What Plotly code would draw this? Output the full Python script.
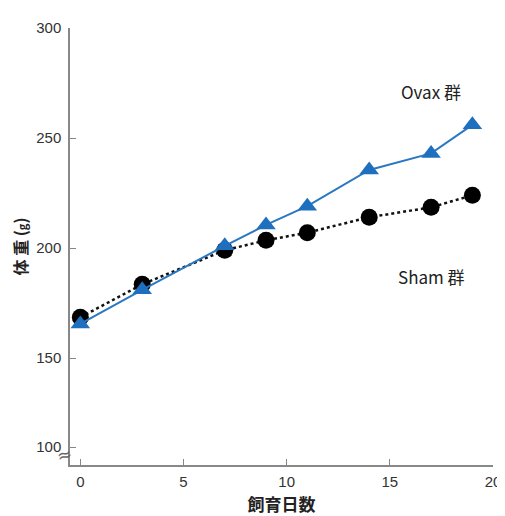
import plotly.graph_objects as go

days = [0, 3, 7, 9, 11, 14, 17, 19]
sham = [168.5, 183.5, 199, 203.5, 207, 214, 218.5, 224]
ovax = [165.5, 181, 201, 210.5, 219, 235.5, 243, 256]
y_tickvals = [109.5, 150, 200, 250, 300]
y_ticktext = ["100", "150", "200", "250", "300"]
x_tickvals = [0, 5, 10, 15, 20]

fig = go.Figure()
fig.add_trace(go.Scatter(
    x=days, y=sham, mode="lines+markers", name="Sham 群",
    line=dict(color="#111111", width=2.5, dash="dot"),
    marker=dict(symbol="circle", size=17, color="#000000"),
))
fig.add_trace(go.Scatter(
    x=days, y=ovax, mode="lines+markers", name="Ovax 群",
    line=dict(color="#2a78c2", width=2),
    marker=dict(symbol="triangle-up", size=17, color="#1f6fbf"),
))

font_family = "Liberation Sans, Arial, sans-serif"
cjk = "Noto Sans CJK JP"
# page body has an 8px margin, so the figure is sized to fit the 505x516 window
fig.update_layout(
    width=497, height=508,
    margin=dict(l=62, r=12, t=20, b=51),
    paper_bgcolor="white", plot_bgcolor="white",
    showlegend=False,
    font=dict(family=font_family, size=15, color="#333333"),
    xaxis=dict(
        range=[-0.5, 20], tickvals=x_tickvals, ticks="inside", ticklen=6,
        tickcolor="#888888", showline=True, linecolor="#888888", linewidth=1.5,
        showgrid=False, zeroline=False, mirror=False, automargin=False,
        tickfont=dict(size=15, color="#333333"), ticklabelstandoff=2,
        title=dict(text="飼育日数", font=dict(family=cjk, size=17, color="#222222", weight="bold"), standoff=16),
    ),
    yaxis=dict(
        range=[101.4, 300], tickvals=y_tickvals, ticktext=y_ticktext,
        ticks="inside", ticklen=6, tickcolor="#888888", automargin=False,
        showline=True, linecolor="#888888", linewidth=1.5,
        showgrid=False, zeroline=False,
        tickfont=dict(size=15, color="#333333"), ticklabelstandoff=4,
        title=dict(text="体 重 (<span style='font-size:11px'>g</span>)", font=dict(family=cjk, size=16, color="#222222", weight="bold"), standoff=16),
    ),
)

fig.add_annotation(x=17.0, y=271, text="Ovax 群", showarrow=False,
                   font=dict(family=cjk, size=17, color="#222222"))
fig.add_annotation(x=17.0, y=187, text="Sham 群", showarrow=False,
                   font=dict(family=cjk, size=17, color="#222222"))
fig.add_annotation(xref="paper", yref="paper", x=-0.012, y=0.023,
                   xanchor="center", yanchor="middle", text="≈",
                   showarrow=False, textangle=-15,
                   font=dict(family="DejaVu Sans", size=18, color="#666666"))

fig.write_html("out.html")
